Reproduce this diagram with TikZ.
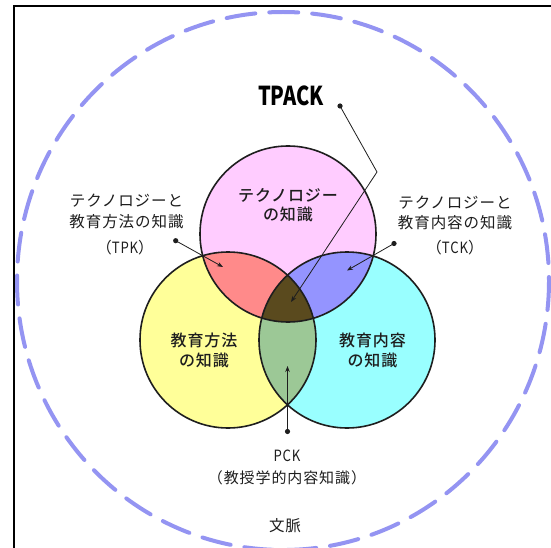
\documentclass[tikz,border=0pt]{standalone}
\usepackage{graphicx}
\usepackage{fontspec}
\setmainfont{Noto Sans CJK JP}
\newfontfamily\jp[LetterSpace=6]{Noto Sans CJK JP}
\newfontfamily\jpm[LetterSpace=6]{Noto Sans CJK JP Medium}
\usetikzlibrary{arrows.meta}
\definecolor{pinkc}{HTML}{FFCCFF}
\definecolor{yellowc}{HTML}{FFFF99}
\definecolor{cyanc}{HTML}{99FFFF}
\definecolor{redc}{HTML}{FF8A8A}
\definecolor{bluec}{HTML}{9494FF}
\definecolor{greenc}{HTML}{9CC896}
\definecolor{darkc}{HTML}{5A4A1E}
\definecolor{dashc}{HTML}{9494F2}
\definecolor{inkc}{HTML}{1E1E1E}
\begin{document}
\begin{tikzpicture}[x=1pt,y=-1pt,
  tx/.style={inner sep=0pt, text=inkc, font=\jp\fontsize{15.5}{18}\selectfont},
  txb/.style={inner sep=0pt, text=inkc, font=\jpm\fontsize{16}{18}\selectfont},
  conn/.style={draw=inkc, line width=0.8pt, -{Stealth[length=6pt,width=4.5pt]}},
  dot/.style={fill=inkc},
  venn/.style={draw=inkc, line width=1.6pt},
  context/.style={draw=dashc, line width=4pt, dash pattern=on 29pt off 14pt, line cap=round}
]
\useasboundingbox (0,0) rectangle (551,548);
\fill[white] (0,0) rectangle (551,548);
% frame
\draw[black, line width=2pt] (14,548) -- (14,6.5) -- (551,6.5);
% context
\draw[context] (283,281) ellipse [x radius=266, y radius=269];
% centres
\coordinate (cT) at (288,234);
\coordinate (cP) at (228,340);
\coordinate (cC) at (347,340);
\def\R{88}
% fills
\fill[pinkc] (cT) circle (\R);
\fill[yellowc] (cP) circle (\R);
\fill[cyanc] (cC) circle (\R);
\begin{scope}
  \clip (cT) circle (\R);
  \fill[redc] (cP) circle (\R);
  \fill[bluec] (cC) circle (\R);
\end{scope}
\begin{scope}
  \clip (cP) circle (\R);
  \fill[greenc] (cC) circle (\R);
  \clip (cC) circle (\R);
  \fill[darkc] (cT) circle (\R);
\end{scope}
\draw[venn] (cT) circle (\R);
\draw[venn] (cP) circle (\R);
\draw[venn] (cC) circle (\R);
% circle labels
\node[txb] (t1) at (288,195) {テクノロジー};
\node[txb] (t2) at (288,214) {の知識};
\node[txb] (p1) at (204,340) {教育方法};
\node[txb] (p2) at (204,360) {の知識};
\node[txb] (c1) at (372.5,340) {教育内容};
\node[txb] (c2) at (372.5,360) {の知識};
% outer labels
\node[inner sep=0pt, text=black, font=\fontsize{26}{26}\selectfont\bfseries] (tpack) at (291,96) {\scalebox{0.77}[1]{TPACK}};
\node[tx] (tpk1) at (126.5,201) {テクノロジーと};
\node[tx] (tpk2) at (126.5,222) {教育方法の知識};
\node[tx] (tpk3) at (125,248) {（\scalebox{0.85}[1]{TPK}）};
\node[tx] (tck1) at (455,203) {テクノロジーと};
\node[tx] (tck2) at (455,223) {教育内容の知識};
\node[tx] (tck3) at (455,248) {（\scalebox{0.85}[1]{TCK}）};
\node[tx] (pck1) at (287,456) {\scalebox{0.85}[1]{PCK}};
\node[tx, font=\jp\fontsize{15}{18}\selectfont] (pck2) at (287,478) {（教授学的内容知識）};
\node[tx] (ctx) at (285,526) {文脈};
% connectors
\coordinate (tpackdot) at (340,106);
\coordinate (tpackbend) at (377,172);
\coordinate (tpacktip) at (291,302);
\coordinate (tpkdot) at (175.7,240.7);
\coordinate (tpktip) at (223,267);
\coordinate (tckdot) at (394,243.5);
\coordinate (tcktip) at (347,270.5);
\coordinate (pckdot) at (287.5,431.5);
\coordinate (pcktip) at (287.5,366);
\fill[dot] (tpackdot) circle (2.6);
\fill[dot] (tpkdot) circle (2.6);
\fill[dot] (tckdot) circle (2.6);
\fill[dot] (pckdot) circle (2.6);
\draw[conn] (tpackdot) -- (tpackbend) -- (tpacktip);
\draw[conn] (tpkdot) -- (tpktip);
\draw[conn] (tckdot) -- (tcktip);
\draw[conn] (pckdot) -- (pcktip);
\end{tikzpicture}
\end{document}
